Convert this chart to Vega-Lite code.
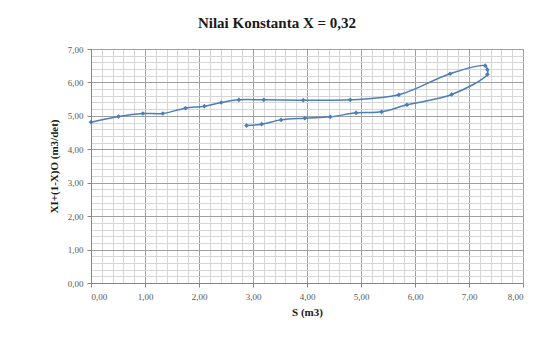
{
  "$schema": "https://vega.github.io/schema/vega-lite/v6.json",
  "autosize": {"type": "none"},
  "width": 432,
  "height": 234,
  "padding": {"left": 91, "top": 49, "right": 19, "bottom": 55},
  "background": "white",
  "title": {
    "text": "Nilai Konstanta X = 0,32",
    "anchor": "middle",
    "dx": -30,
    "offset": 14
  },
  "config": {
    "title": {
      "font": "Liberation Serif",
      "fontSize": 15,
      "fontWeight": "bold",
      "color": "#1a1a1a"
    },
    "view": {"stroke": "#a6a6a6", "strokeWidth": 1},
    "axis": {
      "labelFont": "Liberation Serif",
      "labelFontSize": 9,
      "labelColor": "#595959",
      "titleFont": "Liberation Serif",
      "titleFontSize": 11,
      "titleFontWeight": "bold",
      "titleColor": "#1a1a1a",
      "domainColor": "#868686"
    }
  },
  "data": {
    "values": [
      {"i": 1, "S": 2.88, "Q": 4.71},
      {"i": 2, "S": 3.16, "Q": 4.75},
      {"i": 3, "S": 3.52, "Q": 4.88},
      {"i": 4, "S": 3.96, "Q": 4.93},
      {"i": 5, "S": 4.43, "Q": 4.97},
      {"i": 6, "S": 4.91, "Q": 5.09},
      {"i": 7, "S": 5.38, "Q": 5.12},
      {"i": 8, "S": 5.85, "Q": 5.33},
      {"i": 9, "S": 6.68, "Q": 5.64},
      {"i": 10, "S": 7.34, "Q": 6.24},
      {"i": 11, "S": 7.34, "Q": 6.38},
      {"i": 12, "S": 7.30, "Q": 6.50},
      {"i": 13, "S": 6.65, "Q": 6.26},
      {"i": 14, "S": 5.70, "Q": 5.63},
      {"i": 15, "S": 4.80, "Q": 5.48},
      {"i": 16, "S": 3.93, "Q": 5.47},
      {"i": 17, "S": 3.20, "Q": 5.48},
      {"i": 18, "S": 2.74, "Q": 5.48},
      {"i": 19, "S": 2.41, "Q": 5.40},
      {"i": 20, "S": 2.10, "Q": 5.29},
      {"i": 21, "S": 1.75, "Q": 5.23},
      {"i": 22, "S": 1.33, "Q": 5.07},
      {"i": 23, "S": 0.96, "Q": 5.07},
      {"i": 24, "S": 0.51, "Q": 4.98},
      {"i": 25, "S": 0.00, "Q": 4.81}
    ]
  },
  "encoding": {
    "x": {
      "field": "S",
      "type": "quantitative",
      "scale": {"domain": [0, 8], "nice": false, "zero": false},
      "axis": {
        "title": "S (m3)",
        "titlePadding": 5,
        "values": [0,0.2,0.4,0.6,0.8,1,1.2,1.4,1.6,1.8,2,2.2,2.4,2.6,2.8,3,3.2,3.4,3.6,3.8,4,4.2,4.4,4.6,4.8,5,5.2,5.4,5.6,5.8,6,6.2,6.4,6.6,6.8,7,7.2,7.4,7.6,7.8,8],
        "labelExpr": "abs(datum.value - round(datum.value)) < 0.001 ? replace(format(datum.value, '.2f'), '.', ',') : ''",
        "grid": true,
        "gridColor": {"condition": {"test": "abs(datum.value - round(datum.value)) < 0.001", "value": "#a0a0a0"}, "value": "#d6d6d6"},
        "tickColor": {"condition": {"test": "abs(datum.value - round(datum.value)) < 0.001", "value": "#868686"}, "value": "rgba(0,0,0,0)"},
        "tickSize": 4,
        "labelPadding": 5,
        "labelOverlap": false
      }
    },
    "y": {
      "field": "Q",
      "type": "quantitative",
      "scale": {"domain": [0, 7], "nice": false, "zero": false},
      "axis": {
        "title": "XI+(1-X)O (m3/det)",
        "titlePadding": 8,
        "values": [0,0.2,0.4,0.6,0.8,1,1.2,1.4,1.6,1.8,2,2.2,2.4,2.6,2.8,3,3.2,3.4,3.6,3.8,4,4.2,4.4,4.6,4.8,5,5.2,5.4,5.6,5.8,6,6.2,6.4,6.6,6.8,7],
        "labelExpr": "abs(datum.value - round(datum.value)) < 0.001 ? replace(format(datum.value, '.2f'), '.', ',') : ''",
        "grid": true,
        "gridColor": {"condition": {"test": "abs(datum.value - round(datum.value)) < 0.001", "value": "#a0a0a0"}, "value": "#d6d6d6"},
        "tickColor": {"condition": {"test": "abs(datum.value - round(datum.value)) < 0.001", "value": "#868686"}, "value": "rgba(0,0,0,0)"},
        "tickSize": 4,
        "labelPadding": 4,
        "labelOverlap": false
      }
    },
    "order": {"field": "i", "type": "quantitative"}
  },
  "layer": [
    {
      "mark": {"type": "line", "color": "#4a7ebb", "strokeWidth": 1.5, "interpolate": "catmull-rom"}
    },
    {
      "mark": {"type": "point", "shape": "diamond", "filled": true, "color": "#4a7ebb", "size": 22, "opacity": 1}
    }
  ]
}
